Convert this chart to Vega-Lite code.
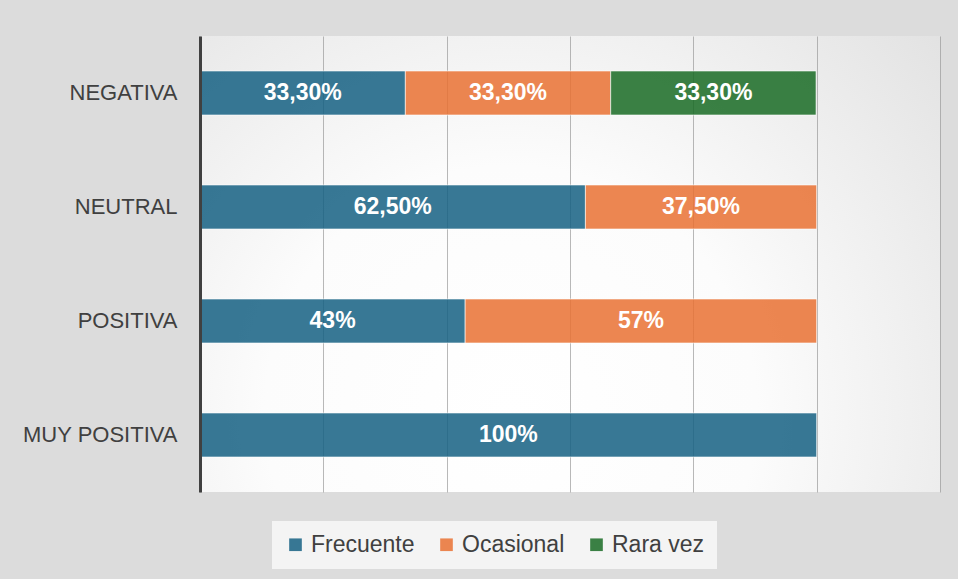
{
  "$schema": "https://vega.github.io/schema/vega-lite/v6.json",
  "width": 740,
  "height": 456,
  "autosize": {"type": "none"},
  "padding": {"left": 200, "top": 36, "right": 18, "bottom": 87},
  "background": "#dcdcdc",
  "view": {
    "stroke": null,
    "fill": {
      "gradient": "radial",
      "x1": 0.42, "y1": 0.7, "r1": 0,
      "x2": 0.42, "y2": 0.7, "r2": 0.95,
      "stops": [
        {"offset": 0, "color": "#ffffff"},
        {"offset": 0.35, "color": "#fcfcfc"},
        {"offset": 1, "color": "#d8d8d8"}
      ]
    }
  },
  "data": {
    "values": [
      {"cat": "NEGATIVA", "serie": "Frecuente", "ord": 1, "value": 0.333, "label": "33,30%"},
      {"cat": "NEGATIVA", "serie": "Ocasional", "ord": 2, "value": 0.333, "label": "33,30%"},
      {"cat": "NEGATIVA", "serie": "Rara vez", "ord": 3, "value": 0.333, "label": "33,30%"},
      {"cat": "NEUTRAL", "serie": "Frecuente", "ord": 1, "value": 0.625, "label": "62,50%"},
      {"cat": "NEUTRAL", "serie": "Ocasional", "ord": 2, "value": 0.375, "label": "37,50%"},
      {"cat": "POSITIVA", "serie": "Frecuente", "ord": 1, "value": 0.43, "label": "43%"},
      {"cat": "POSITIVA", "serie": "Ocasional", "ord": 2, "value": 0.57, "label": "57%"},
      {"cat": "MUY POSITIVA", "serie": "Frecuente", "ord": 1, "value": 1.0, "label": "100%"}
    ]
  },
  "transform": [
    {"stack": "value", "groupby": ["cat"], "sort": [{"field": "ord", "order": "ascending"}], "as": ["v0", "v1"]},
    {"calculate": "(datum.v0 + datum.v1) / 2", "as": "mid"}
  ],
  "encoding": {
    "y": {
      "field": "cat",
      "type": "nominal",
      "sort": ["NEGATIVA", "NEUTRAL", "POSITIVA", "MUY POSITIVA"],
      "scale": {"paddingInner": 0.614, "paddingOuter": 0.307},
      "axis": {
        "title": null,
        "ticks": false,
        "grid": false,
        "domainColor": "#404040",
        "domainWidth": 3,
        "labelFont": "Liberation Sans",
        "labelFontSize": 22,
        "labelColor": "#404040",
        "labelPadding": 23,
        "zindex": 1
      }
    }
  },
  "layer": [
    {
      "mark": {"type": "bar", "fillOpacity": 0.85, "stroke": "#ffffff", "strokeOpacity": 0.6, "strokeWidth": 1},
      "encoding": {
        "x": {
          "field": "v0",
          "type": "quantitative",
          "scale": {"domain": [0, 1.2], "nice": false},
          "axis": {
            "values": [0, 0.2, 0.4, 0.6, 0.8, 1.0, 1.2],
            "labels": false,
            "ticks": false,
            "domain": false,
            "title": null,
            "grid": true,
            "gridColor": "#9a9a9a",
            "gridOpacity": 0.7
          }
        },
        "x2": {"field": "v1"},
        "color": {
          "field": "serie",
          "type": "nominal",
          "scale": {"domain": ["Frecuente", "Ocasional", "Rara vez"], "range": ["#156082", "#E97132", "#196B24"]},
          "legend": {
            "orient": "none",
            "legendX": 72,
            "legendY": 485,
            "direction": "horizontal",
            "title": null,
            "symbolType": "square",
            "symbolSize": 160,
            "symbolOpacity": 0.85,
            "symbolStrokeWidth": 0,
            "labelFont": "Liberation Sans",
            "labelFontSize": 23,
            "labelColor": "#404040",
            "labelOffset": 4,
            "columnPadding": 20,
            "fillColor": "#f4f4f4",
            "padding": 12
          }
        }
      }
    },
    {
      "mark": {"type": "text", "color": "#ffffff", "fontWeight": "bold", "fontSize": 23, "font": "Liberation Sans"},
      "encoding": {
        "x": {"field": "mid", "type": "quantitative"},
        "text": {"field": "label"}
      }
    }
  ]
}
